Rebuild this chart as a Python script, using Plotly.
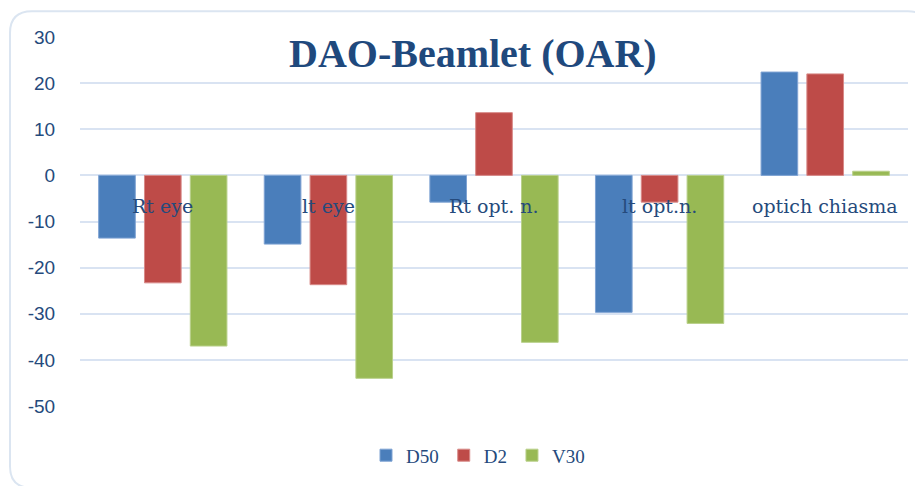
import plotly.graph_objects as go

categories = ["Rt eye", "lt eye", "Rt opt. n.", "lt opt.n.", "optich chiasma"]
d50 = [-13.6, -14.9, -5.8, -29.7, 22.4]
d2 = [-23.3, -23.7, 13.6, -5.8, 22.0]
v30 = [-37.0, -44.0, -36.2, -32.1, 0.9]
series_names = ["D50", "D2", "V30"]
y_ticks = [30, 20, 10, 0, -10, -20, -30, -40, -50]
y_tick_text = ["30", "20", "10", "0", "-10", "-20", "-30", "-40", "-50"]

OFF = 8  # page body margin
W, H = 923 - OFF, 486 - OFF
L, T = 80 - OFF, 37 - OFF
R = W - (908 - OFF)
B = H - (411 - OFF)
PW, PH = W - L - R, H - T - B

def px(x):
    return (x - OFF - L) / PW

def py(y):
    return (H - B - (y - OFF)) / PH

colors = ["#4a7ebb", "#be4b48", "#98b954"]
line_colors = ["#7fa3d3", "#d88a88", "#b9d08b"]
text_col = "#254a7c"

fig = go.Figure()
for name, vals, c, lc in zip(series_names, [d50, d2, v30], colors, line_colors):
    fig.add_trace(go.Bar(x=categories, y=vals, name=name,
                         marker=dict(color=c, line=dict(color=lc, width=1))))

# rounded border
x0, y0, x1, y1, r = 10, 11, 930, 494, 22
path = (f"M {px(x0+r)},{py(y0)} L {px(x1-r)},{py(y0)} Q {px(x1)},{py(y0)} {px(x1)},{py(y0+r)} "
        f"L {px(x1)},{py(y1-r)} Q {px(x1)},{py(y1)} {px(x1-r)},{py(y1)} "
        f"L {px(x0+r)},{py(y1)} Q {px(x0)},{py(y1)} {px(x0)},{py(y1-r)} "
        f"L {px(x0)},{py(y0+r)} Q {px(x0)},{py(y0)} {px(x0+r)},{py(y0)} Z")

annotations = [dict(x=c, y=0, xref="x", yref="y", text=c, showarrow=False,
                    yanchor="middle", yshift=-31,
                    font=dict(family="DejaVu Serif", size=19, color=text_col))
               for c in categories]
annotations.append(dict(x=px(473), y=py(54), xref="paper", yref="paper",
                        text="<b>DAO-Beamlet (OAR)</b>", showarrow=False,
                        xanchor="center", yanchor="middle",
                        font=dict(family="Liberation Serif", size=40, color="#1f497d")))

fig.update_layout(
    width=W, height=H,
    margin=dict(l=L, r=R, t=T, b=B),
    paper_bgcolor="white", plot_bgcolor="white",
    barmode="group", bargap=0.17, bargroupgap=0.2,
    showlegend=True,
    legend=dict(orientation="h", x=px(478), y=py(461), xanchor="center", yanchor="middle",
                font=dict(family="Liberation Serif", size=19, color=text_col),
                itemwidth=30, traceorder="normal"),
    xaxis=dict(showticklabels=False, showgrid=False, zeroline=False, showline=False,
               range=[-0.5, 4.5]),
    yaxis=dict(range=[-50, 30], tickvals=y_ticks, ticktext=y_tick_text,
               showgrid=True, gridcolor="#d9e3f2",
               gridwidth=1.5, zeroline=True, zerolinecolor="#d9e3f2", zerolinewidth=1.5,
               showline=False, ticks="outside", ticklen=20, tickcolor="rgba(0,0,0,0)",
               tickfont=dict(family="Liberation Sans", size=19, color=text_col)),
    shapes=[dict(type="path", path=path, xref="paper", yref="paper",
                 line=dict(color="#dbe5f1", width=2), layer="below")],
    annotations=annotations,
)

fig.write_html("out.html")
